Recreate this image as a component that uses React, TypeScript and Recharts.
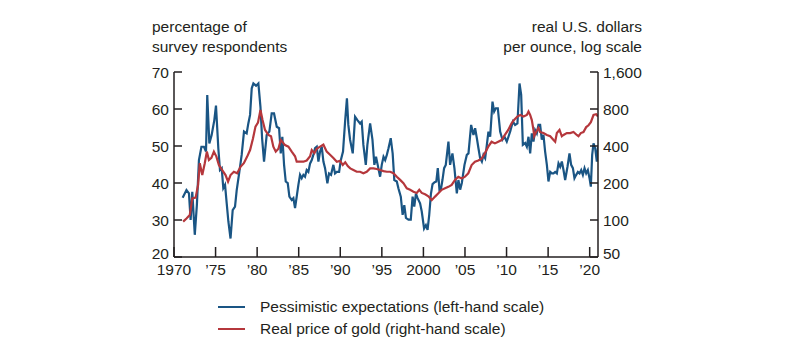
import React from "react";
import { LineChart, Line, XAxis, YAxis } from "recharts";

const BLUE = "#1a5584";
const RED = "#b5373c";
const INK = "#231f20";
const FONT = "'Liberation Sans', Arial, Helvetica, sans-serif";
const FS = 15.5;

// Pessimistic expectations (percent of survey respondents), left scale
const blueYears = [
  1971.04, 1971.5, 1971.8, 1972.0, 1972.2, 1972.5, 1972.75, 1973.0, 1973.3, 1973.6, 1973.85,
  1974.0, 1974.25, 1974.53, 1974.85, 1975.05, 1975.33, 1975.53, 1975.74, 1975.93, 1976.14,
  1976.34, 1976.54, 1976.8, 1977.06, 1977.34, 1977.54, 1977.86, 1978.14, 1978.42, 1978.74,
  1978.94, 1979.15, 1979.35, 1979.55, 1979.87, 1980.15, 1980.4, 1980.6, 1980.83, 1981.15,
  1981.47, 1981.75, 1982.03, 1982.36, 1982.64, 1982.84, 1983.03, 1983.24, 1983.44, 1983.68,
  1983.88, 1984.16, 1984.36, 1984.56, 1984.76, 1984.96, 1985.16, 1985.36, 1985.56, 1985.76,
  1985.96, 1986.16, 1986.37, 1986.57, 1986.76, 1986.97, 1987.17, 1987.37, 1987.57, 1987.77,
  1987.97, 1988.17, 1988.45, 1988.65, 1988.89, 1989.17, 1989.37, 1989.58, 1989.86, 1990.05,
  1990.33, 1990.58, 1990.8, 1990.97, 1991.18, 1991.5, 1991.78, 1992.06, 1992.38, 1992.58,
  1992.78, 1993.07, 1993.26, 1993.59, 1993.87, 1994.1, 1994.3, 1994.5, 1994.79, 1994.99,
  1995.2, 1995.4, 1995.6, 1995.8, 1996.07, 1996.3, 1996.5, 1996.8, 1996.99, 1997.28,
  1997.5, 1997.7, 1997.9, 1998.2, 1998.48, 1998.7, 1998.9, 1999.1, 1999.3, 1999.6,
  1999.8, 2000.08, 2000.3, 2000.5, 2000.7, 2000.9, 2001.1, 2001.35, 2001.55, 2001.73,
  2001.93, 2002.13, 2002.29, 2002.49, 2002.69, 2003.01, 2003.21, 2003.49, 2003.73, 2004.02,
  2004.21, 2004.42, 2004.62, 2004.94, 2005.22, 2005.42, 2005.74, 2006.02, 2006.22, 2006.43,
  2006.62, 2006.82, 2007.03, 2007.22, 2007.43, 2007.63, 2007.82, 2008.03, 2008.31, 2008.51,
  2008.71, 2008.95, 2009.23, 2009.51, 2009.75, 2010.03, 2010.23, 2010.45, 2010.76, 2011.03,
  2011.31, 2011.56, 2011.76, 2011.96, 2012.24, 2012.44, 2012.64, 2012.84, 2013.04, 2013.24,
  2013.44, 2013.64, 2013.84, 2014.04, 2014.24, 2014.44, 2014.64, 2014.85, 2015.04, 2015.25,
  2015.45, 2015.65, 2015.85, 2016.05, 2016.25, 2016.45, 2016.65, 2016.85, 2017.05, 2017.33,
  2017.57, 2017.77, 2017.98, 2018.17, 2018.38, 2018.58, 2018.78, 2018.98, 2019.18, 2019.38,
  2019.58, 2019.78, 2019.98, 2020.14, 2020.3, 2020.46, 2020.66, 2020.86, 2021.0,
];
const blueValues = [
  36, 38.1, 37.2, 30, 37.6, 26, 34, 46.2, 49.8, 49.8, 48.5,
  63.8, 50.7, 53, 57, 60.9, 49.4, 43.5, 44, 38.6, 39.5,
  34.5, 29.6, 25, 32.7, 33.6, 38, 43, 47.6, 53.9, 53.4,
  56.1, 58.4, 65.6, 66.9, 66.3, 66.9, 60.5, 52, 45.8, 53,
  53.9, 58.8, 58.8, 55.2, 54.8, 48, 52.5, 44.9, 40.4, 40,
  36.3, 35.4, 35.9, 33.2, 36.3, 39.5, 42.2, 41.3, 42.2, 41.7,
  43.5, 43, 45.3, 46.2, 47.6, 49.4, 49.8, 45.8, 48.5, 49.8,
  45.8, 44, 39.9, 42.6, 42.2, 44.9, 42.6, 43, 43, 46,
  48.5, 56.6, 62.9, 55.7, 51.7, 48, 57.9, 57, 56.1, 56.6,
  50.3, 44.9, 50.3, 56.1, 51.7, 44.9, 47.1, 44.9, 41.7, 44.9,
  47.1, 46.2, 47.6, 49.4, 52.1, 48, 40.8, 40.4, 38.6, 36.3,
  31.4, 34, 30.6, 30.1, 30.1, 36.3, 33.6, 37.1, 35.9, 34.5,
  32.3, 27.7, 28.6, 27.3, 31.4, 37, 39.7, 40.2, 40.4, 44,
  38.2, 38.6, 40.8, 44, 44.9, 51.2, 44.9, 48, 44, 37.2,
  40.8, 38.2, 40, 44.9, 47.6, 48, 55.7, 53, 54.8, 52.1,
  49.4, 46.7, 45.8, 47.6, 46.7, 50.3, 53.9, 52.5, 62, 59.3,
  60.2, 60.2, 53.9, 51.7, 52.5, 51.2, 52.5, 54, 56.6, 55.7,
  56.1, 66.9, 63.8, 50.3, 50.8, 49.8, 52.5, 48, 53.4, 51.2,
  54.3, 53.4, 55.7, 55.7, 51.7, 53, 48.5, 44.9, 40.4, 43,
  42.6, 42.6, 43, 42.6, 45.3, 44.4, 45.8, 43.5, 40.8, 44.4,
  48, 44.9, 44, 41.3, 42.2, 43, 42.6, 43.5, 42.2, 44,
  42.6, 43.5, 41.3, 39, 47.6, 50.7, 49.4, 45.8, 49.8,
];

// Real price of gold (real U.S. dollars per ounce), right log scale
const goldYears = [
  1971.1, 1971.5, 1971.9, 1972.2, 1972.6, 1972.9, 1973.1, 1973.4, 1973.7, 1973.95,
  1974.2, 1974.5, 1974.8, 1975.1, 1975.4, 1975.8, 1976.2, 1976.5, 1976.8, 1977.2,
  1977.6, 1978.0, 1978.4, 1978.8, 1979.15, 1979.5, 1979.8, 1980.1, 1980.4, 1980.65,
  1980.95, 1981.35, 1981.67, 1981.95, 1982.24, 1982.56, 1982.84, 1983.03, 1983.35, 1983.76,
  1984.16, 1984.56, 1984.76, 1985.16, 1985.56, 1985.96, 1986.37, 1986.57, 1986.89, 1987.17,
  1987.57, 1987.97, 1988.37, 1988.77, 1989.17, 1989.58, 1989.98, 1990.3, 1990.6, 1990.9,
  1991.2, 1991.58, 1991.98, 1992.38, 1992.78, 1993.18, 1993.59, 1993.99, 1994.39, 1994.79,
  1995.2, 1995.6, 1996.0, 1996.4, 1996.8, 1997.2, 1997.6, 1998.0, 1998.4, 1998.8,
  1999.2, 1999.5, 1999.8, 2000.2, 2000.6, 2001.0, 2001.4, 2001.8, 2002.2, 2002.6,
  2003.0, 2003.4, 2003.8, 2004.2, 2004.6, 2005.0, 2005.4, 2005.8, 2006.2, 2006.6,
  2007.0, 2007.4, 2007.8, 2008.2, 2008.6, 2009.0, 2009.4, 2009.8, 2010.2, 2010.6,
  2010.9, 2011.3, 2011.64, 2012.04, 2012.44, 2012.64, 2012.84, 2013.04, 2013.24, 2013.32,
  2013.56, 2013.84, 2014.04, 2014.44, 2014.85, 2015.25, 2015.65, 2015.85, 2016.05, 2016.37,
  2016.65, 2016.85, 2017.25, 2017.65, 2018.05, 2018.45, 2018.65, 2018.93, 2019.25, 2019.58,
  2019.86, 2020.14, 2020.46, 2020.78, 2021.0,
];
const goldValues = [
  97, 103, 110, 150, 152, 193, 290, 232, 290, 360,
  308, 320, 360, 328, 280, 255, 232, 205, 232, 247,
  240, 271, 290, 328, 371, 460, 575, 620, 785, 650,
  540, 492, 480, 395, 360, 380, 447, 433, 407, 395,
  360, 330, 298, 298, 298, 305, 330, 371, 350, 380,
  395, 410, 360, 340, 320, 298, 303, 280, 295, 275,
  263, 255, 247, 247, 240, 247, 263, 263, 260, 255,
  250, 247, 247, 240, 225, 212, 199, 181, 176, 170,
  166, 176, 166, 162, 156, 145, 155, 165, 176, 181,
  186, 193, 212, 225, 218, 225, 240, 280, 298, 305,
  316, 350, 395, 433, 420, 433, 447, 492, 540, 612,
  650, 695, 715, 695, 715, 763, 715, 650, 540, 480,
  520, 560, 520, 510, 492, 480, 447, 433, 510, 540,
  480, 492, 510, 510, 520, 492, 480, 510, 520, 570,
  590, 625, 715, 725, 695,
];

const xTicks = [1970, 1975, 1980, 1985, 1990, 1995, 2000, 2005, 2010, 2015, 2020];
const leftTicks = [20, 30, 40, 50, 60, 70];
const rightTicks = [50, 100, 200, 400, 800, 1600];

const blueData = blueYears.map((t, i) => ({ t, v: blueValues[i] }));
const goldData = goldYears.map((t, i) => ({ t, g: goldValues[i] }));

const fmtYear = (y: number) =>
  y === 1970 || y === 2000 ? String(y) : "\u2019" + String(y).slice(2);

const LeftTick = (props: any) => {
  const { x, y, payload, index } = props;
  return (
    <g>
      <line x1={x} x2={x + 8} y1={y} y2={y} stroke={INK} strokeWidth={1.5} />
      <text x={x - 5} y={y} dy={index === 0 ? 1.5 : 5.5} textAnchor="end" fontSize={FS} fontFamily={FONT} fill={INK}>
        {payload.value}
      </text>
    </g>
  );
};

const RightTick = (props: any) => {
  const { x, y, payload, index } = props;
  return (
    <g>
      <line x1={x - 8} x2={x} y1={y} y2={y} stroke={INK} strokeWidth={1.5} />
      <text x={x + 5} y={y} dy={index === 0 ? 1.5 : 5.5} textAnchor="start" fontSize={FS} fontFamily={FONT} fill={INK}>
        {Number(payload.value).toLocaleString("en-US")}
      </text>
    </g>
  );
};

const BottomTick = (props: any) => {
  const { x, y, payload } = props;
  return (
    <g>
      <line x1={x} x2={x} y1={y} y2={y - 10} stroke={INK} strokeWidth={1.5} />
      <text x={x} y={y} dy={17.5} textAnchor="middle" fontSize={FS} fontFamily={FONT} fill={INK}>
        {fmtYear(payload.value)}
      </text>
    </g>
  );
};

const textStyle: React.CSSProperties = {
  position: "absolute",
  fontFamily: FONT,
  fontSize: FS,
  color: INK,
  lineHeight: "20px",
  whiteSpace: "nowrap",
};

export default function App() {
  return (
    <div style={{ position: "absolute", left: 0, top: 0, width: 800, height: 363, background: "#fff" }}>
      <LineChart
        width={800}
        height={363}
        margin={{ top: 72, right: 142, bottom: 76, left: 0 }}
      >
        <XAxis
          dataKey="t"
          type="number"
          domain={[1970, 2021]}
          ticks={xTicks}
          interval={0}
          allowDataOverflow
          height={30}
          tickSize={0}
          tickMargin={0}
          tick={<BottomTick />}
          axisLine={{ stroke: INK, strokeWidth: 1.5 }}
          tickLine={false}
        />
        <YAxis
          yAxisId="left"
          orientation="left"
          width={174}
          domain={[20, 70]}
          ticks={leftTicks}
          interval={0}
          allowDataOverflow
          tickSize={0}
          tickMargin={0}
          tick={<LeftTick />}
          axisLine={{ stroke: INK, strokeWidth: 1.5 }}
          tickLine={false}
        />
        <YAxis
          yAxisId="right"
          orientation="right"
          width={60}
          scale="log"
          domain={[50, 1600]}
          ticks={rightTicks}
          interval={0}
          allowDataOverflow
          tickSize={0}
          tickMargin={0}
          tick={<RightTick />}
          axisLine={{ stroke: INK, strokeWidth: 1.5 }}
          tickLine={false}
        />
        <Line
          yAxisId="left"
          data={blueData}
          dataKey="v"
          stroke={BLUE}
          strokeWidth={2.2}
          dot={false}
          isAnimationActive={false}
          type="linear"
        />
        <Line
          yAxisId="right"
          data={goldData}
          dataKey="g"
          stroke={RED}
          strokeWidth={2.2}
          dot={false}
          isAnimationActive={false}
          type="linear"
        />
      </LineChart>

      <div style={{ ...textStyle, left: 152, top: 17 }}>
        percentage of
        <br />
        survey respondents
      </div>
      <div style={{ ...textStyle, right: 800 - 642, top: 17, textAlign: "right" }}>
        real U.S. dollars
        <br />
        per ounce, log scale
      </div>

      <div style={{ position: "absolute", left: 218, top: 296, fontFamily: FONT, fontSize: FS, color: INK }}>
        <div style={{ display: "flex", alignItems: "center", height: 22 }}>
          <div style={{ width: 27, height: 2.5, background: BLUE, marginRight: 15 }} />
          <span>Pessimistic expectations (left-hand scale)</span>
        </div>
        <div style={{ display: "flex", alignItems: "center", height: 22 }}>
          <div style={{ width: 27, height: 2.5, background: RED, marginRight: 15 }} />
          <span>Real price of gold (right-hand scale)</span>
        </div>
      </div>
    </div>
  );
}
